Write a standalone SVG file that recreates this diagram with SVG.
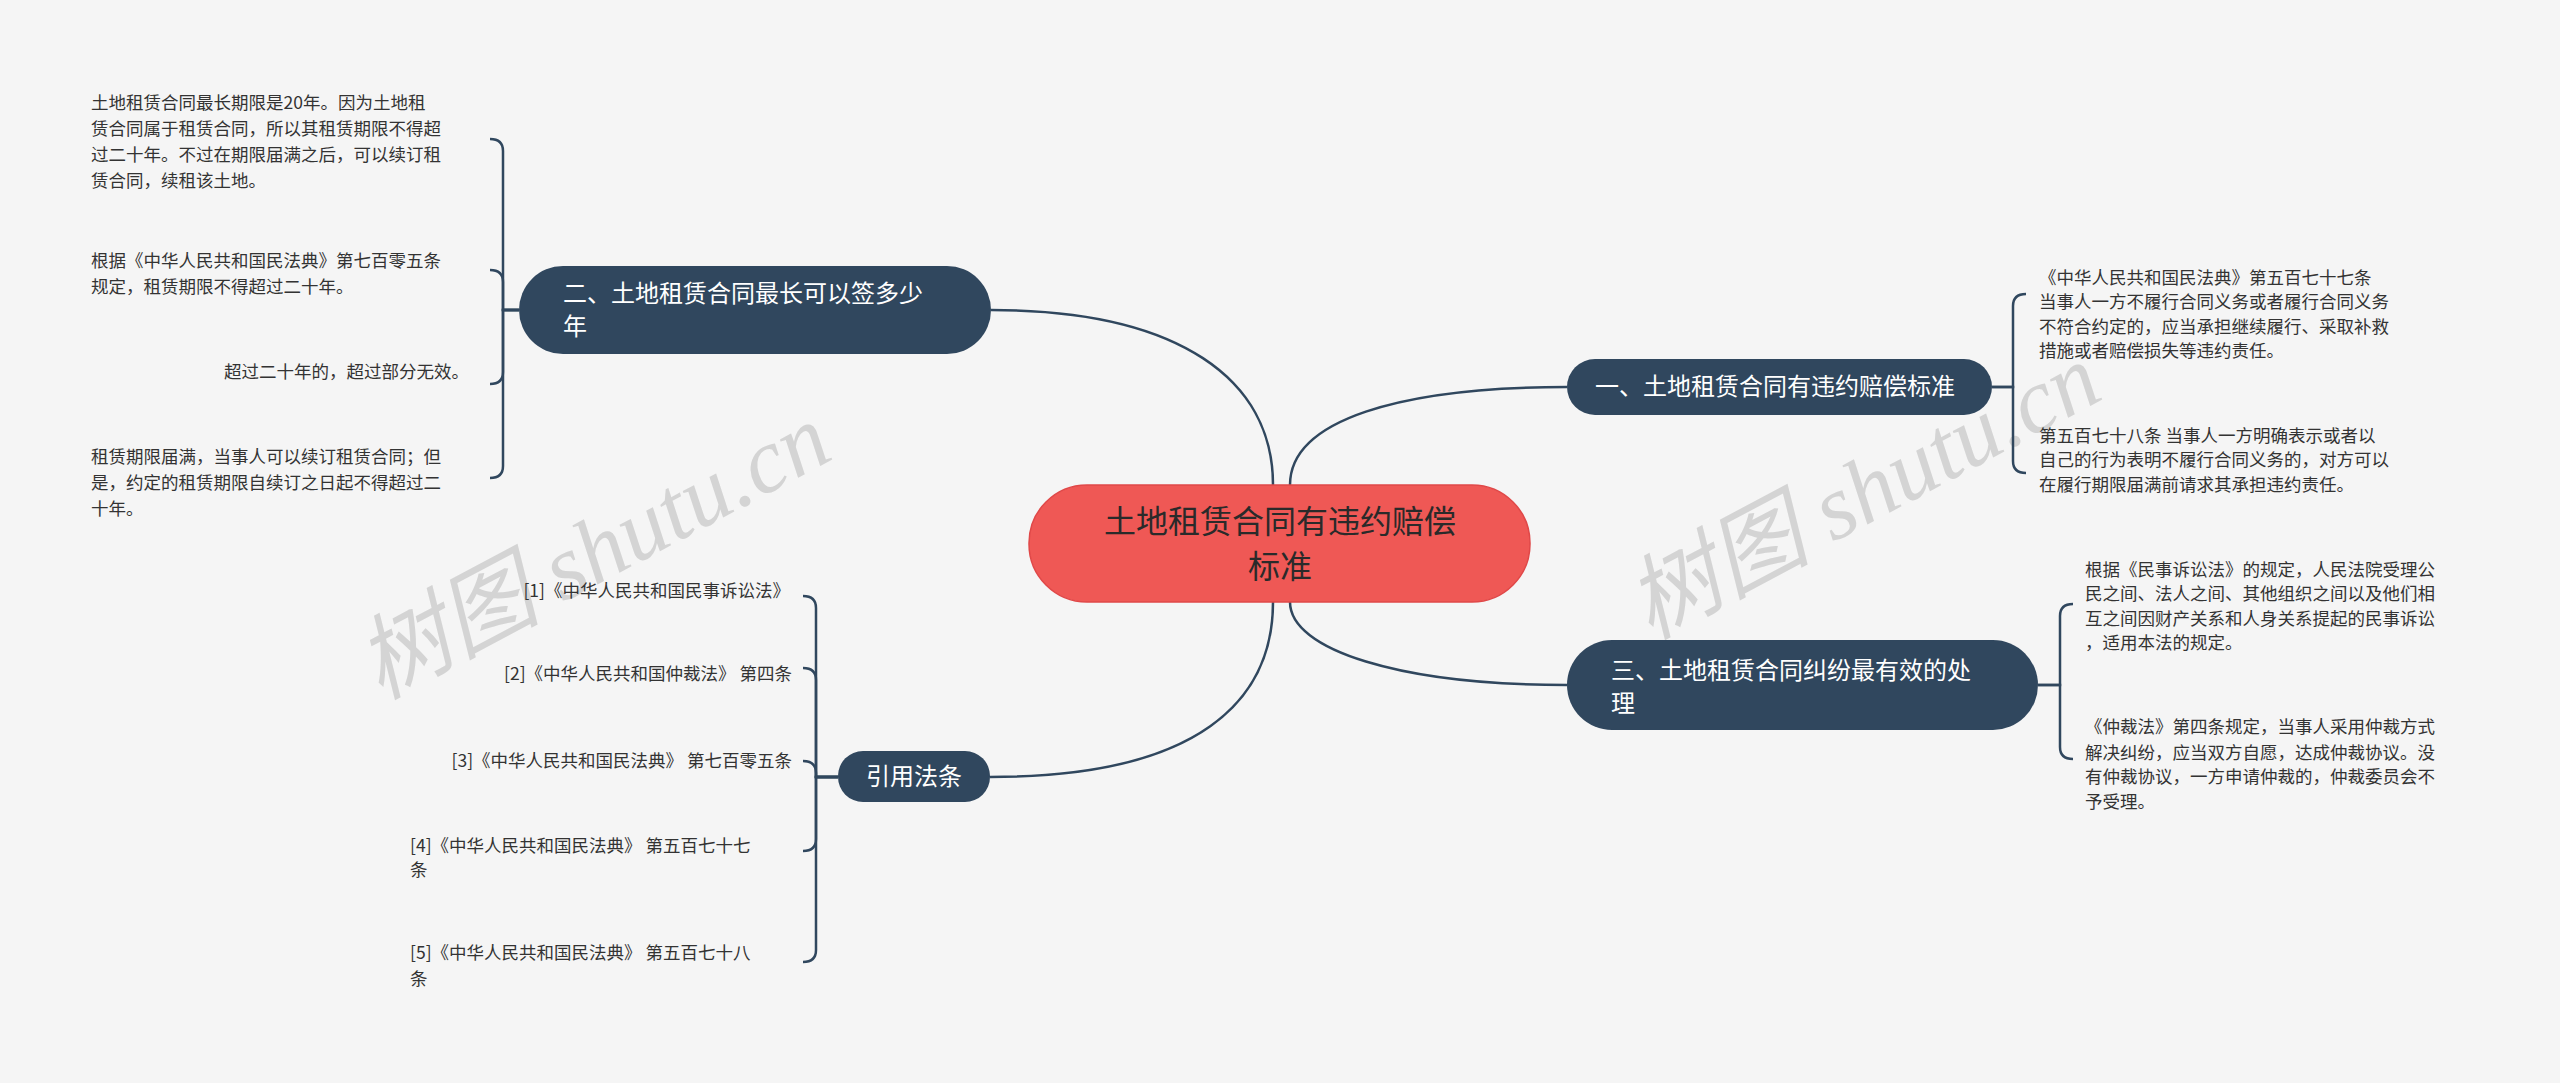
<svg xmlns="http://www.w3.org/2000/svg" width="2560" height="1083" viewBox="0 0 2560 1083">
<style>
text{font-family:"Noto Sans CJK SC","Liberation Sans",sans-serif}
.n{fill:#30475e}
.nt{fill:#fff;font-size:24px}
.lf{fill:#333;font-size:17.5px}
.c{fill:none;stroke:#30475e;stroke-width:2.5}
.wm{fill:#ccc;opacity:.8;font-size:92px;font-family:"Liberation Serif","Noto Sans CJK SC",serif;font-style:italic}
</style>
<rect width="2560" height="1083" fill="#f5f5f5"/>
<text class="wm" transform="translate(380,700) rotate(-28)">树图 shutu.cn</text>
<text class="wm" transform="translate(1650,640) rotate(-28)">树图 shutu.cn</text>
<g id="connectors">
<path class="c" d="M1273,485 C1273,380 1180,310 991,310"/>
<path class="c" d="M1290,485 C1290,420 1400,387 1567,387"/>
<path class="c" d="M1290,602 C1290,650 1400,685 1567,685"/>
<path class="c" d="M1273,602 C1273,700 1200,777 990,777"/>
<path class="c" d="M519,310 H503 V151 Q503,139 490,139"/>
<path class="c" d="M519,310 H503 V282 Q503,270 490,270"/>
<path class="c" d="M519,310 H503 V372 Q503,384 490,384"/>
<path class="c" d="M519,310 H503 V466 Q503,478 490,478"/>
<path class="c" d="M1992,387 H2013 V306 Q2013,294 2026,294"/>
<path class="c" d="M1992,387 H2013 V461 Q2013,473 2026,473"/>
<path class="c" d="M2038,685 H2060 V616 Q2060,604 2073,604"/>
<path class="c" d="M2038,685 H2060 V747 Q2060,759 2073,759"/>
<path class="c" d="M838,777 H816 V608 Q816,596 803,596"/>
<path class="c" d="M838,777 H816 V680 Q816,668 803,668"/>
<path class="c" d="M838,777 H816 V773 Q816,761 803,761"/>
<path class="c" d="M838,777 H816 V839 Q816,851 803,851"/>
<path class="c" d="M838,777 H816 V950 Q816,962 803,962"/>
</g>
<g id="center">
<rect x="1029" y="485" width="501" height="117" rx="58" fill="#ef5855" stroke="#e04848" stroke-width="1.5"/>
<text x="1280" y="533" font-size="32" fill="#2a2a2a" text-anchor="middle">土地租赁合同有违约赔偿</text>
<text x="1280" y="578" font-size="32" fill="#2a2a2a" text-anchor="middle">标准</text>
</g>
<g id="n2">
<rect class="n" x="519" y="266" width="472" height="88" rx="44"/>
<text class="nt" x="563" y="302">二、土地租赁合同最长可以签多少</text>
<text class="nt" x="563" y="335">年</text>
</g>
<g id="n1">
<rect class="n" x="1567" y="359" width="425" height="56" rx="28"/>
<text class="nt" x="1595" y="395">一、土地租赁合同有违约赔偿标准</text>
</g>
<g id="n3">
<rect class="n" x="1567" y="640" width="471" height="90" rx="45"/>
<text class="nt" x="1611" y="679">三、土地租赁合同纠纷最有效的处</text>
<text class="nt" x="1611" y="712">理</text>
</g>
<g id="n4">
<rect class="n" x="838" y="751" width="152" height="51" rx="25"/>
<text class="nt" x="914" y="785" text-anchor="middle">引用法条</text>
</g>
<g id="leaves2">
<text class="lf" x="91" y="109">土地租赁合同最长期限是20年。因为土地租</text>
<text class="lf" x="91" y="135">赁合同属于租赁合同，所以其租赁期限不得超</text>
<text class="lf" x="91" y="161">过二十年。不过在期限届满之后，可以续订租</text>
<text class="lf" x="91" y="187">赁合同，续租该土地。</text>
<text class="lf" x="91" y="267">根据《中华人民共和国民法典》第七百零五条</text>
<text class="lf" x="91" y="293">规定，租赁期限不得超过二十年。</text>
<text class="lf" x="469" y="378" text-anchor="end">超过二十年的，超过部分无效。</text>
<text class="lf" x="91" y="463">租赁期限届满，当事人可以续订租赁合同；但</text>
<text class="lf" x="91" y="489">是，约定的租赁期限自续订之日起不得超过二</text>
<text class="lf" x="91" y="515">十年。</text>
</g>
<g id="leaves1">
<text class="lf" x="2039" y="284">《中华人民共和国民法典》第五百七十七条</text>
<text class="lf" x="2039" y="308">当事人一方不履行合同义务或者履行合同义务</text>
<text class="lf" x="2039" y="333">不符合约定的，应当承担继续履行、采取补救</text>
<text class="lf" x="2039" y="357">措施或者赔偿损失等违约责任。</text>
<text class="lf" x="2039" y="442">第五百七十八条 当事人一方明确表示或者以</text>
<text class="lf" x="2039" y="466">自己的行为表明不履行合同义务的，对方可以</text>
<text class="lf" x="2039" y="491">在履行期限届满前请求其承担违约责任。</text>
</g>
<g id="leaves3">
<text class="lf" x="2085" y="576">根据《民事诉讼法》的规定，人民法院受理公</text>
<text class="lf" x="2085" y="600">民之间、法人之间、其他组织之间以及他们相</text>
<text class="lf" x="2085" y="625">互之间因财产关系和人身关系提起的民事诉讼</text>
<text class="lf" x="2085" y="649">，适用本法的规定。</text>
<text class="lf" x="2085" y="733">《仲裁法》第四条规定，当事人采用仲裁方式</text>
<text class="lf" x="2085" y="759">解决纠纷，应当双方自愿，达成仲裁协议。没</text>
<text class="lf" x="2085" y="783">有仲裁协议，一方申请仲裁的，仲裁委员会不</text>
<text class="lf" x="2085" y="808">予受理。</text>
</g>
<g id="leaves4">
<text class="lf" x="790" y="597" text-anchor="end">[1]《中华人民共和国民事诉讼法》</text>
<text class="lf" x="792" y="680" text-anchor="end">[2]《中华人民共和国仲裁法》 第四条</text>
<text class="lf" x="792" y="767" text-anchor="end">[3]《中华人民共和国民法典》 第七百零五条</text>
<text class="lf" x="410" y="852">[4]《中华人民共和国民法典》 第五百七十七</text>
<text class="lf" x="410" y="876">条</text>
<text class="lf" x="410" y="959">[5]《中华人民共和国民法典》 第五百七十八</text>
<text class="lf" x="410" y="985">条</text>
</g>
</svg>
